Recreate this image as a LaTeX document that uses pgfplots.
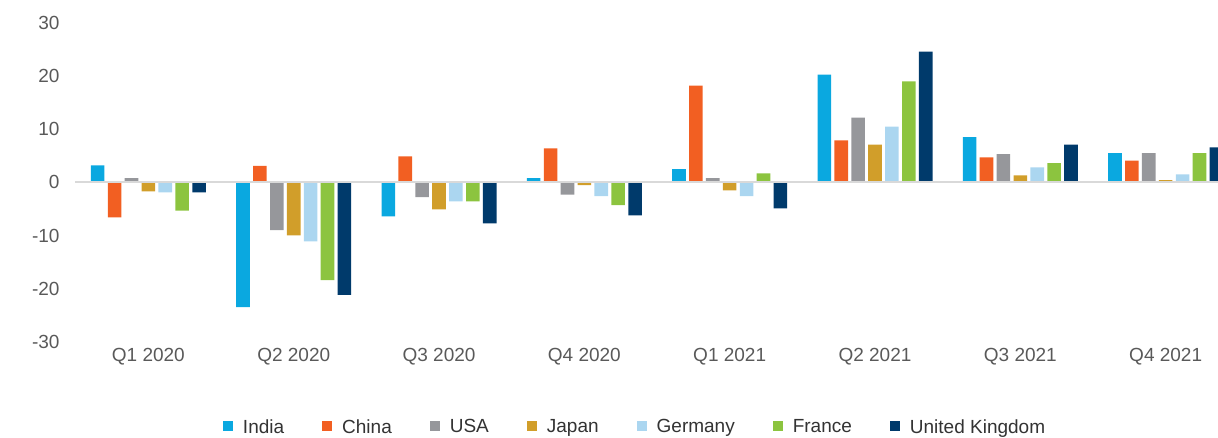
\documentclass[border=0pt]{standalone}
\usepackage{pgfplots}
\pgfplotsset{compat=1.18}
\usepackage{fontspec}
\setmainfont{Liberation Sans}
\definecolor{cIndia}{HTML}{0AA8E0}
\definecolor{cChina}{HTML}{F25F22}
\definecolor{cUSA}{HTML}{96979B}
\definecolor{cJapan}{HTML}{D19E2A}
\definecolor{cGermany}{HTML}{ABD6F0}
\definecolor{cFrance}{HTML}{8CC43F}
\definecolor{cUK}{HTML}{003A6B}
\definecolor{tickgray}{HTML}{595959}
\definecolor{zerogray}{HTML}{D9D9D9}
\begin{document}
\begin{tikzpicture}
\useasboundingbox (-75pt,-95.3pt) rectangle (1143pt,341.7pt);
\begin{axis}[
  at={(0,0)}, anchor=south west,
  scale only axis, width=1143pt, height=318.7pt,
  xmin=-0.505, xmax=7.36, ymin=-30, ymax=30,
  ybar, bar width=13.6pt, ybar=3.3pt,
  axis line style={draw=none},
  ytick={-30,-20,-10,0,10,20,30},
  xtick={0,1,2,3,4,5,6,7},
  xticklabels={Q1 2020,Q2 2020,Q3 2020,Q4 2020,Q1 2021,Q2 2021,Q3 2021,Q4 2021},
  major tick length=0pt,
  /pgf/number format/assume math mode=true,
  tick label style={font=\fontsize{19}{23}\selectfont, text=tickgray},
  yticklabel style={xshift=-12pt},
  xticklabel style={yshift=-3pt},
  legend columns=-1,
  legend style={draw=none, at={(0.49,-0.268)}, anchor=center,
    font=\fontsize{19}{23}\selectfont, text=black!80,
    /tikz/every odd column/.append style={column sep=8pt},
    /tikz/every even column/.append style={column sep=36pt}},
  legend image code/.code={\fill[#1] (0pt,-4pt) rectangle (10pt,6pt);},
]
\addplot[fill=cIndia, draw=none] coordinates {(0,3.2) (1,-23.5) (2,-6.4) (3,0.8) (4,2.5) (5,20.3) (6,8.5) (7,5.5)};
\addplot[fill=cChina, draw=none] coordinates {(0,-6.6) (1,3.1) (2,4.9) (3,6.4) (4,18.2) (5,7.9) (6,4.7) (7,4.1)};
\addplot[fill=cUSA, draw=none] coordinates {(0,0.8) (1,-9.0) (2,-2.8) (3,-2.3) (4,0.8) (5,12.2) (6,5.3) (7,5.5)};
\addplot[fill=cJapan, draw=none] coordinates {(0,-1.7) (1,-10.0) (2,-5.1) (3,-0.5) (4,-1.5) (5,7.1) (6,1.3) (7,0.4)};
\addplot[fill=cGermany, draw=none] coordinates {(0,-1.9) (1,-11.1) (2,-3.6) (3,-2.6) (4,-2.6) (5,10.5) (6,2.8) (7,1.5)};
\addplot[fill=cFrance, draw=none] coordinates {(0,-5.3) (1,-18.4) (2,-3.6) (3,-4.3) (4,1.7) (5,19.0) (6,3.6) (7,5.5)};
\addplot[fill=cUK, draw=none] coordinates {(0,-1.9) (1,-21.2) (2,-7.7) (3,-6.2) (4,-4.9) (5,24.6) (6,7.1) (7,6.6)};
\legend{India,China,USA,Japan,Germany,France,United Kingdom}
\draw[zerogray, line width=2pt] (axis cs:-0.505,0) -- (axis cs:7.36,0);
\end{axis}
\end{tikzpicture}
\end{document}
